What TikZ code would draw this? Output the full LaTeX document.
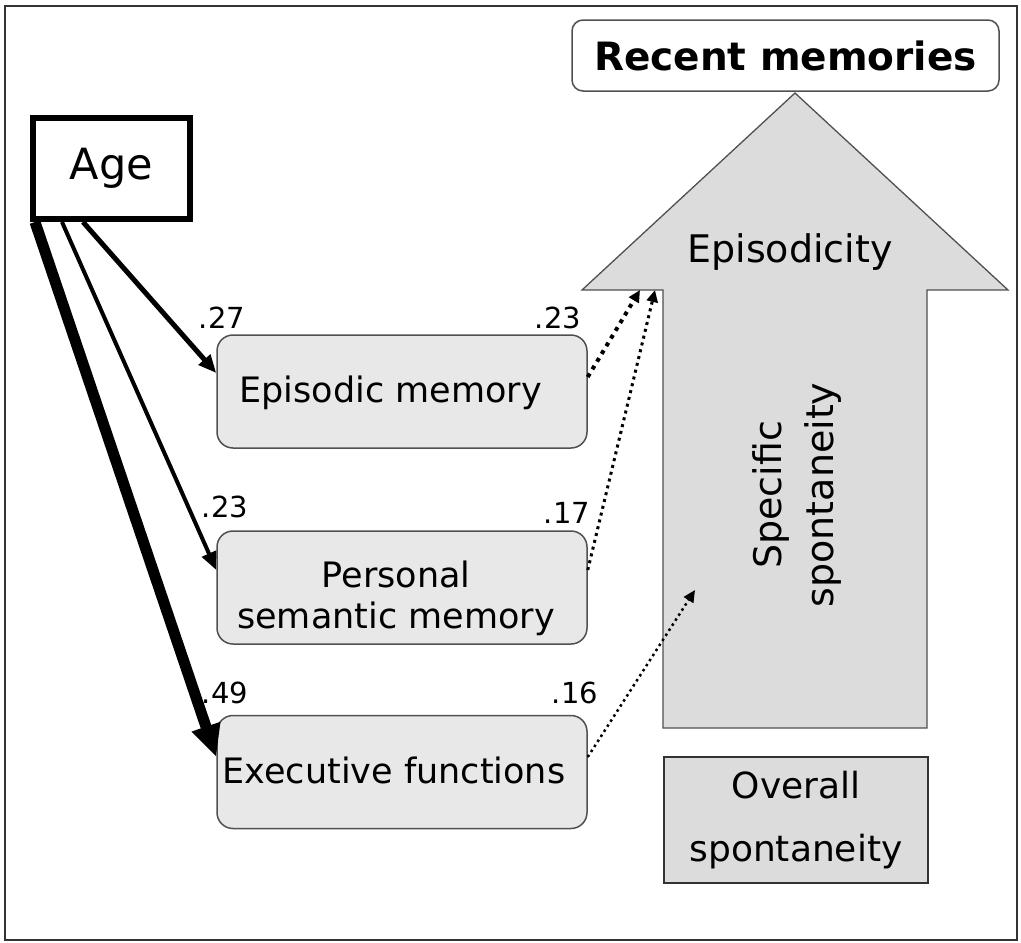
\documentclass[tikz,border=0pt]{standalone}
\usepackage{fontspec}
\setmainfont{DejaVu Sans}
\usetikzlibrary{arrows.meta}
\definecolor{boxfill}{HTML}{E8E8E8}
\definecolor{arrfill}{HTML}{DCDCDC}
\definecolor{edge}{HTML}{505050}
\tikzset{
  membox/.style={draw=edge, line width=1.5pt, fill=boxfill, rounded corners=16pt, minimum width=370pt, minimum height=113pt, inner sep=0pt},
  bigtxt/.style={font=\fontsize{35}{41}\selectfont},
  coef/.style={font=\fontsize{29}{30}\selectfont, inner sep=0pt},
  agearrow/.style={draw=black, -{Triangle[length=18pt,width=15pt]}},
  dotarrow/.style={draw=black, -{Triangle[length=12pt,width=11pt]}}
}
\begin{document}
\begin{tikzpicture}[x=1pt,y=-1pt]
\useasboundingbox (0,0) rectangle (1021,943);
% outer frame
\draw[line width=1.2pt, draw=black!80] (5,6) rectangle (1017,940);
% big arrow
\draw[draw=edge, line width=1.3pt, fill=arrfill]
  (795,93) -- (1008,290) -- (927,290) -- (927,728) -- (663,728) -- (663,290) -- (582,290) -- cycle;
\node[font=\fontsize{38}{42}\selectfont] (episodicity) at (790,252) {Episodicity};
\node[font=\fontsize{38}{52}\selectfont, rotate=90, align=center] (specific) at (797,495) {Specific\\spontaneity};
% recent memories
\node[draw=edge, line width=1.5pt, fill=white, rounded corners=11pt, minimum width=427pt, minimum height=71pt, font=\fontsize{39}{42}\selectfont\bfseries] (recent) at (785.5,55.5) {Recent memories};
% overall spontaneity
\node[draw=black!80, line width=1.5pt, fill=arrfill, minimum width=264pt, minimum height=126pt, align=center, font=\fontsize{36}{63}\selectfont] (overall) at (796,820) {Overall\\spontaneity};
% age
\node[draw=black, line width=6pt, fill=white, minimum width=157pt, minimum height=101pt, font=\fontsize{43}{46}\selectfont] (age) at (111.5,168.5) {Age};
% memory boxes
\node[membox] (epi) at (402,391.5) {};
\node[bigtxt, anchor=west] at (236,393) {Episodic memory};
\node[membox] (pers) at (402,587.5) {};
\node[bigtxt, align=center] at (396,598) {Personal\\semantic memory};
\node[membox] (exec) at (402,772) {};
\node[bigtxt, anchor=west] at (219,770) {Executive functions};
% coefficients
\node[coef] (c1) at (222,318) {.27};
\node[coef] (c2) at (558,318) {.23};
\node[coef] (c3) at (225,507) {.23};
\node[coef] (c4) at (567,513) {.17};
\node[coef] (c5) at (225,693) {.49};
\node[coef] (c6) at (575,693) {.16};
% connectors from age
\coordinate (a1) at (83,222);
\coordinate (a2) at (62,222);
\coordinate (a3) at (35,222);
\draw[agearrow, line width=5pt] (a1) -- (epi.west |- 0,373);
\draw[agearrow, line width=4pt] (a2) -- (pers.west |- 0,570);
\draw[draw=black, line width=11pt, -{Triangle[length=32pt,width=28pt]}] (a3) -- (exec.west |- 0,757);
% dotted connectors to arrow
\coordinate (t1) at (640,290);
\coordinate (t2) at (655,290);
\coordinate (t3) at (695,590);
\draw[dotarrow, line width=4pt, dash pattern=on 4pt off 5pt] (epi.east |- 0,377) -- (t1);
\draw[dotarrow, line width=3pt, dash pattern=on 3pt off 4pt] (pers.east |- 0,570) -- (t2);
\draw[dotarrow, line width=2.5pt, dash pattern=on 2.5pt off 3.5pt] (exec.east |- 0,757) -- (t3);
\end{tikzpicture}
\end{document}
